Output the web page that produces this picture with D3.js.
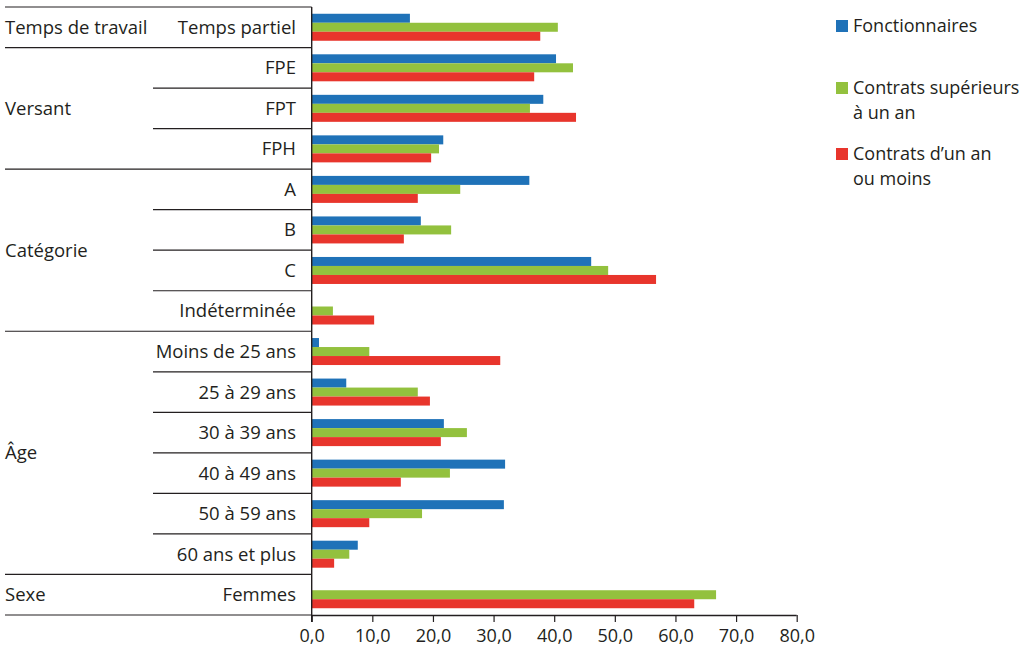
<!DOCTYPE html>
<html><head><meta charset="utf-8">
<script src="https://cdn.jsdelivr.net/npm/d3@7"></script>
<style>
body{margin:0;background:#fff;}
text{font-family:"Open Sans",sans-serif;fill:#231f20;}
</style></head>
<body><svg id="c" width="1031" height="652"></svg>
<script>
const categories = ["Temps partiel","FPE","FPT","FPH","A","B","C","Indéterminée","Moins de 25 ans","25 à 29 ans","30 à 39 ans","40 à 49 ans","50 à 59 ans","60 ans et plus","Femmes"];
const groups = [
  {name:"Temps de travail", from:0, to:0},
  {name:"Versant", from:1, to:3},
  {name:"Catégorie", from:4, to:7},
  {name:"Âge", from:8, to:13},
  {name:"Sexe", from:14, to:14}
];
const seriesNames = ["Fonctionnaires","Contrats supérieurs à un an","Contrats d’un an ou moins"];
const legendLines = [["Fonctionnaires"],["Contrats supérieurs","à un an"],["Contrats d’un an","ou moins"]];
const fonctionnaires = [16.2,40.3,38.2,21.7,35.9,18.0,46.1,0,1.2,5.7,21.8,31.9,31.7,7.6,0];
const contratsSup = [40.6,43.1,36.0,21.0,24.5,23.0,48.9,3.5,9.5,17.5,25.6,22.8,18.2,6.2,66.7];
const contratsMoins = [37.7,36.7,43.6,19.7,17.5,15.2,56.8,10.3,31.1,19.5,21.3,14.7,9.5,3.7,63.1];
const tickValues = [0,10,20,30,40,50,60,70,80];
const colors = ["#1f72b8","#93c13e","#e8352c"];
const seriesValues = [fonctionnaires, contratsSup, contratsMoins];

const svg = d3.select("#c");
const x0 = 311.7, x1 = 796.7, yTop = 7, yBot = 615;
const FS = 18.5;
const x = d3.scaleLinear().domain([0,80]).range([x0,x1]);
const y = d3.scaleBand().domain(categories).range([yTop,yBot]).paddingInner(0).paddingOuter(0);
const ys = d3.scaleBand().domain([0,1,2]).range([0,27]);
const off = (y.bandwidth()-27)/2;
const stroke = "#231f20";

// bars
categories.forEach((c,i)=>{
  seriesValues.forEach((vals,s)=>{
    if(vals[i]>0){
      svg.append("rect")
        .attr("x",x(0)).attr("y",y(c)+off+ys(s))
        .attr("width",x(vals[i])-x(0)).attr("height",ys.bandwidth())
        .attr("fill",colors[s]);
    }
  });
});

// row separators
const groupStarts = new Set(groups.map(g=>g.from));
for(let i=0;i<=categories.length;i++){
  const yy = i<categories.length ? y(categories[i]) : yBot;
  const full = i===categories.length || groupStarts.has(i);
  svg.append("line").attr("x1", full?5:153).attr("x2",x0).attr("y1",yy).attr("y2",yy)
    .attr("stroke",stroke).attr("stroke-width",1.2);
}
// vertical axis
svg.append("line").attr("x1",x0).attr("x2",x0).attr("y1",yTop).attr("y2",yBot+7)
  .attr("stroke",stroke).attr("stroke-width",1.4);

// category labels
svg.selectAll("text.cat").data(categories).enter().append("text")
  .attr("class","cat").attr("x",296).attr("y",d=>y(d)+y.bandwidth()/2)
  .attr("dy","0.35em").attr("text-anchor","end").attr("font-size",FS).text(d=>d);
// group labels
groups.forEach(g=>{
  const yy = (y(categories[g.from]) + y(categories[g.to]) + y.bandwidth())/2;
  svg.append("text").attr("x",5).attr("y",yy).attr("dy","0.35em").attr("font-size",FS).text(g.name);
});

// x axis
const ax = svg.append("g").attr("transform",`translate(0,${yBot})`)
  .call(d3.axisBottom(x).tickValues(tickValues).tickSize(7).tickPadding(7)
    .tickFormat(d=>d3.format(".1f")(d).replace(".",",")));
ax.select(".domain").attr("stroke",stroke).attr("stroke-width",1.4).attr("d",`M${x0},0.5H${x1}`);
ax.selectAll(".tick line").attr("stroke",stroke).attr("stroke-width",1.2);
ax.selectAll(".tick text").attr("font-size",18).attr("fill","#231f20").style("font-family","'Open Sans',sans-serif");

// legend
const legY = [26, 88, 154];
const LFS = 18;
legendLines.forEach((lines,i)=>{
  svg.append("rect").attr("x",836).attr("y",legY[i]-6).attr("width",12).attr("height",12).attr("fill",colors[i]);
  lines.forEach((s,j)=>{
    svg.append("text").attr("font-size",LFS).attr("x",853).attr("y",legY[i]+j*24.8).attr("dy","0.35em").text(s);
  });
});
</script></body></html>
